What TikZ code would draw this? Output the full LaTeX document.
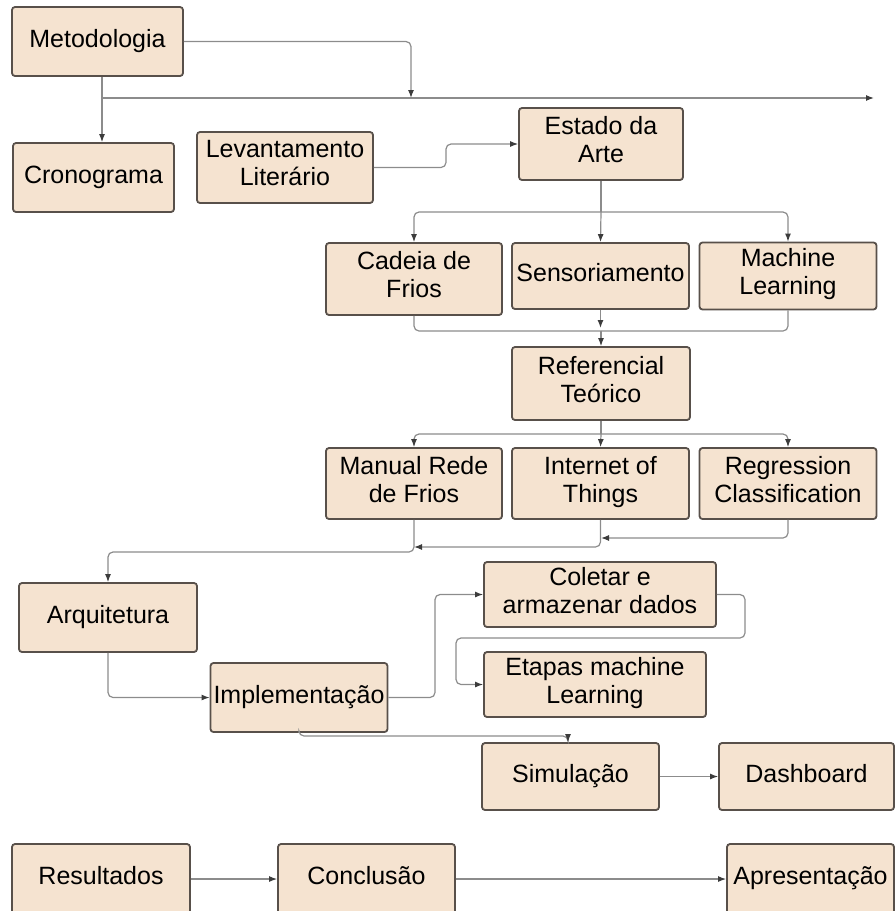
\documentclass[tikz,border=0pt]{standalone}
\usepackage{fontspec}
\setmainfont{Liberation Sans}
\usetikzlibrary{arrows.meta,positioning,calc}
\definecolor{boxfill}{RGB}{245,227,208}
\definecolor{boxline}{RGB}{88,80,74}
\definecolor{wiregray}{RGB}{140,140,140}
\definecolor{tipdark}{RGB}{60,60,60}

\begin{document}
\begin{tikzpicture}[x=1pt, y=-1pt,
  box/.style={draw=boxline, fill=boxfill, line width=1.8pt, rounded corners=3pt,
    align=center, inner sep=0pt, font=\fontsize{25}{28}\selectfont,
    execute at begin node=\strut, execute at end node=\strut},
  link/.style={draw=wiregray, line width=1.2pt, rounded corners=5pt},
  arr/.style={link, -{Latex[length=8pt,width=6pt,color=tipdark]}}]
\useasboundingbox (0,0) rectangle (896,911);
% top row
\node[box, minimum width=171pt, minimum height=69pt] (meto) at (97.5,41.5) {Metodologia};
\node[box, minimum width=161pt, minimum height=69pt] (crono) at (93.5,177.5) {Cronograma};
\node[box, minimum width=176pt, minimum height=71pt] (lev) at (285,167.5) {Levantamento\\Literário};
\node[box, minimum width=164pt, minimum height=72pt] (estado) at (601,144) {Estado da\\Arte};
% state of the art
\node[box, minimum width=176pt, minimum height=72pt] (cadeia) at (414,279) {Cadeia de\\Frios};
\node[box, minimum width=177pt, minimum height=66pt] (sensor) at (600.5,276) {Sensoriamento};
\node[box, minimum width=177pt, minimum height=67pt] (mlearn) at (788,276) {Machine\\Learning};
\node[box, minimum width=178pt, minimum height=73pt] (ref) at (601,383.5) {Referencial\\Teórico};
% theory
\node[box, minimum width=176pt, minimum height=71pt] (manual) at (414,483.5) {Manual Rede\\de Frios};
\node[box, minimum width=177pt, minimum height=71pt] (iot) at (600.5,483.5) {Internet of\\Things};
\node[box, minimum width=177pt, minimum height=71pt] (regr) at (788,483.5) {Regression\\Classification};
% implementation
\node[box, minimum width=178pt, minimum height=69pt] (arq) at (108,617.5) {Arquitetura};
\node[box, minimum width=177pt, minimum height=69pt] (impl) at (299,697.5) {Implementação};
\node[box, minimum width=232pt, minimum height=65pt] (coletar) at (600,594.5) {Coletar e\\armazenar dados};
\node[box, minimum width=222pt, minimum height=65pt] (etapas) at (595,684.5) {Etapas machine\\Learning};
\node[box, minimum width=177pt, minimum height=67pt] (sim) at (570.5,776.5) {Simulação};
\node[box, minimum width=175pt, minimum height=67pt] (dash) at (806.5,776.5) {Dashboard};
% bottom row
\node[box, minimum width=178pt, minimum height=70pt] (res) at (101,879) {Resultados};
\node[box, minimum width=177pt, minimum height=70pt] (concl) at (366.5,879) {Conclusão};
\node[box, minimum width=167pt, minimum height=70pt] (apres) at (810.5,879) {Apresentação};

% junction points
\coordinate (topend) at (874,98);
\coordinate (topdrop) at (411,98);
\coordinate (splitA) at (601,212);
\coordinate (mergeA) at (601,331);
\coordinate (splitB) at (601,434);
\coordinate (joinR) at (601,538);
\coordinate (joinM) at (414,547);
\coordinate (joinL) at (414,552);
\coordinate (loopR) at (745,638);
\coordinate (loopL) at (456,638);
\coordinate (simin) at (568,736);

% connectors
\draw[arr] (meto.south -| 102,0) -- (102,0 |- crono.north);
\draw[arr] (102,98) -- (topend);
\draw[arr] (meto.east) -| (topdrop);
\draw[arr] (lev.east) -- (446,167.5) |- (estado.west);
\draw[link] (estado.south) -- (splitA);
\draw[arr] (splitA) -| (cadeia.north);
\draw[arr] (splitA) -- (sensor.north);
\draw[arr] (splitA) -| (mlearn.north);
\draw[link] (cadeia.south) |- (mergeA);
\draw[link] (mlearn.south) |- (mergeA);
\draw[arr] (sensor.south) -- (600.5,328);
\draw[arr] (mergeA) -- (ref.north);
\draw[link] (ref.south) -- (splitB);
\draw[arr] (splitB) -| (manual.north);
\draw[arr] (splitB) -- (iot.north);
\draw[arr] (splitB) -| (regr.north);
\draw[arr] (regr.south) |- (joinR);
\draw[arr] (iot.south) |- (joinM);
\draw[arr] (manual.south) -- (joinL) -| (arq.north);
\draw[arr] (arq.south) |- (impl.west);
\draw[arr] (impl.east) -- (435,697.5) |- (coletar.west);
\draw[arr] (coletar.east) -| (loopR) -- (loopL) |- (etapas.west);
\draw[arr] (impl.south) |- (simin) -- (simin |- sim.north);
\draw[arr] (sim.east) -- (dash.west);
\draw[arr] (res.east) -- (concl.west);
\draw[arr] (concl.east) -- (apres.west);
\end{tikzpicture}
\end{document}
